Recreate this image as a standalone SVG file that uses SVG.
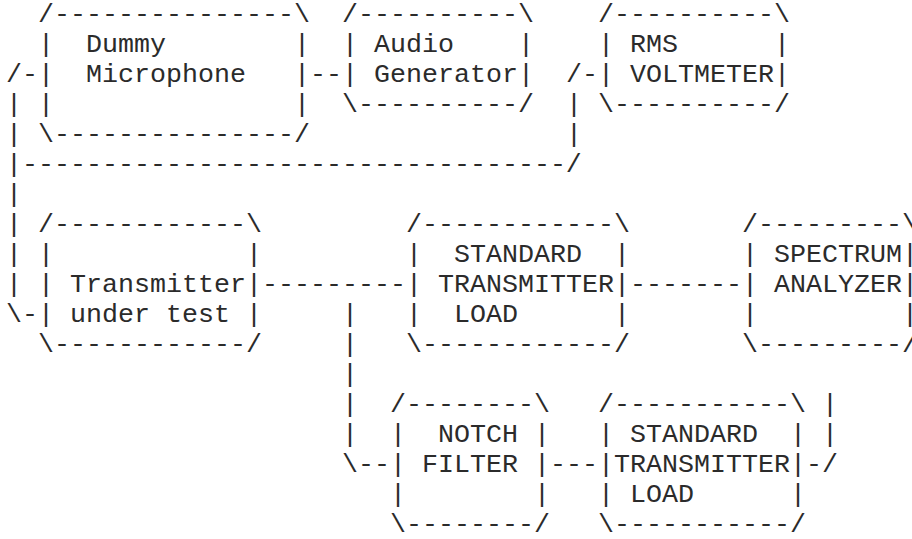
<svg xmlns="http://www.w3.org/2000/svg" width="912" height="539" viewBox="0 0 912 539" xml:space="preserve">
  <style>
    /* monospace grid: 16px per column (x = 6 + 16*col), 30px per row (baseline = 22 + 30*(row-1)) */
    text { font-family: "Liberation Mono", "DejaVu Sans Mono", monospace; font-size: 26.667px; fill: #2b2b2b; white-space: pre; }
  </style>
  <rect width="912" height="539" fill="#fff"/>

  <!-- connectors -->
  <g id="connectors">
    <text x="6" y="82">/-</text>
    <text x="310" y="82">--</text>
    <text x="566" y="82">/-</text>
    <text x="6" y="112">|</text>
    <text x="566" y="112">|</text>
    <text x="6" y="142">|</text>
    <text x="566" y="142">|</text>
    <text x="6" y="172">|----------------------------------/</text>
    <text x="6" y="202">|</text>
    <text x="6" y="232">|</text>
    <text x="6" y="262">|</text>
    <text x="6" y="292">|</text>
    <text x="6" y="322">\-</text>
    <text x="262" y="292">---------</text>
    <text x="630" y="292">-------</text>
    <text x="342" y="322">|</text>
    <text x="342" y="352">|</text>
    <text x="342" y="382">|</text>
    <text x="342" y="412">|</text>
    <text x="342" y="442">|</text>
    <text x="342" y="472">\--</text>
    <text x="550" y="472">---</text>
    <text x="806" y="472">-/</text>
    <text x="822" y="412">|</text>
    <text x="822" y="442">|</text>
  </g>

  <g id="dummy-microphone">
    <text x="38" y="22">/---------------\</text>
    <text x="38" y="52">|  Dummy        |</text>
    <text x="38" y="82">|  Microphone   |</text>
    <text x="38" y="112">|               |</text>
    <text x="38" y="142">\---------------/</text>
  </g>

  <g id="audio-generator">
    <text x="342" y="22">/----------\</text>
    <text x="342" y="52">| Audio    |</text>
    <text x="342" y="82">| Generator|</text>
    <text x="342" y="112">\----------/</text>
  </g>

  <g id="rms-voltmeter">
    <text x="598" y="22">/----------\</text>
    <text x="598" y="52">| RMS      |</text>
    <text x="598" y="82">| VOLTMETER|</text>
    <text x="598" y="112">\----------/</text>
  </g>

  <g id="transmitter">
    <text x="38" y="232">/------------\</text>
    <text x="38" y="262">|            |</text>
    <text x="38" y="292">| Transmitter|</text>
    <text x="38" y="322">| under test |</text>
    <text x="38" y="352">\------------/</text>
  </g>

  <g id="standard-load-1">
    <text x="406" y="232">/------------\</text>
    <text x="406" y="262">|  STANDARD  |</text>
    <text x="406" y="292">| TRANSMITTER|</text>
    <text x="406" y="322">|  LOAD      |</text>
    <text x="406" y="352">\------------/</text>
  </g>

  <!-- the right edge of this box runs to the canvas border -->
  <g id="spectrum-analyzer">
    <text x="742" y="232">/---------\</text>
    <text x="742" y="262">| SPECTRUM|</text>
    <text x="742" y="292">| ANALYZER|</text>
    <text x="742" y="322">|         |</text>
    <text x="742" y="352">\---------/</text>
  </g>

  <g id="notch-filter">
    <text x="390" y="412">/--------\</text>
    <text x="390" y="442">|  NOTCH |</text>
    <text x="390" y="472">| FILTER |</text>
    <text x="390" y="502">|        |</text>
    <text x="390" y="532">\--------/</text>
  </g>

  <g id="standard-load-2">
    <text x="598" y="412">/-----------\</text>
    <text x="598" y="442">| STANDARD  |</text>
    <text x="598" y="472">|TRANSMITTER|</text>
    <text x="598" y="502">| LOAD      |</text>
    <text x="598" y="532">\-----------/</text>
  </g>
</svg>
